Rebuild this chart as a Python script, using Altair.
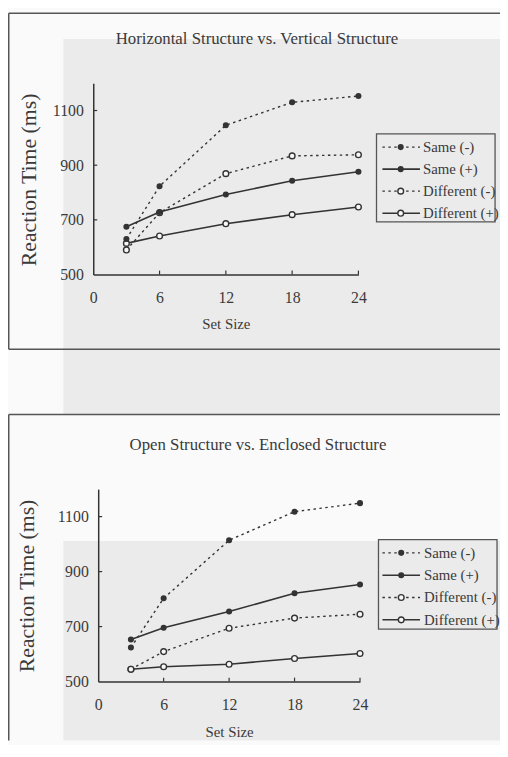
import altair as alt
import pandas as pd

# ---------------- data ----------------
set_size = [3, 6, 12, 18, 24]
series_names = ["Same (-)", "Same (+)", "Different (-)", "Different (+)"]

# Horizontal vs. Vertical structure
hv_same_neg = [630, 823, 1046, 1130, 1153]
hv_same_pos = [675, 729, 793, 843, 876]
hv_diff_neg = [590, 726, 869, 934, 938]
hv_diff_pos = [614, 641, 686, 719, 747]

# Open vs. Enclosed structure
oe_same_neg = [624, 803, 1014, 1118, 1149]
oe_same_pos = [653, 696, 755, 821, 853]
oe_diff_neg = [545, 609, 694, 731, 745]
oe_diff_pos = [545, 554, 563, 584, 602]

x_tick_values = [0, 6, 12, 18, 24]
x_tick_marks = [6, 12, 18, 24]
y_tick_values = [500, 700, 900, 1100]
y_tick_marks = [700, 900, 1100]
x_domain = [0, 24]
y_domain = [500, 1200]

title_top = "Horizontal Structure vs. Vertical Structure"
title_bottom = "Open Structure vs. Enclosed Structure"
x_title = "Set Size"
y_title = "Reaction Time (ms)"

# ---------------- style / layout ----------------
FONT = "Liberation Serif"
INK = "#3a3a3a"
LINE = "#333333"
FRAME = "#555555"
GRAY = "#ebebeb"
PAPER = "#fafafa"
DOT = [2.5, 3.5]
CW, CH = 498, 737          # drawing area (page x 8..506, y 8..745)
M = 8                      # page margin

one = pd.DataFrame({"k": [0]})


def P(v):
    return v - M


def long_table(values):
    rows = []
    for name, ys in zip(series_names, values):
        for x, y in zip(set_size, ys):
            rows.append({"series": name, "x": x, "y": y,
                         "dashed": "(-)" in name, "filled": name.startswith("Same")})
    return pd.DataFrame(rows)


def rect(x, x2, y, y2, fill, stroke=None, sw=0):
    kw = dict(fill=fill)
    if stroke:
        kw.update(stroke=stroke, strokeWidth=sw)
    else:
        kw.update(strokeWidth=0)
    return alt.Chart(one).mark_rect(**kw).encode(
        x=alt.value(P(x)), x2=alt.value(P(x2)), y=alt.value(P(y)), y2=alt.value(P(y2)))


def rule(x, x2, y, y2, color=LINE, sw=1.5, dash=None):
    kw = dict(color=color, strokeWidth=sw)
    if dash:
        kw["strokeDash"] = dash
    return alt.Chart(one).mark_rule(**kw).encode(
        x=alt.value(P(x)), x2=alt.value(P(x2)), y=alt.value(P(y)), y2=alt.value(P(y2)))


def text(s, x, y, size, align="center"):
    return alt.Chart(one).mark_text(text=s, font=FONT, fontSize=size, color=INK,
                                    align=align, baseline="middle").encode(
        x=alt.value(P(x)), y=alt.value(P(y)))


def point(x, y, filled):
    if filled:
        m = alt.Chart(one).mark_point(shape="circle", filled=True, color=LINE,
                                      size=38, opacity=1)
    else:
        m = alt.Chart(one).mark_point(shape="circle", filled=True, fill="#f7f7f7",
                                      stroke=LINE, strokeWidth=1.4, size=34, opacity=1)
    return m.encode(x=alt.value(P(x)), y=alt.value(P(y)))


def panel_data(values, g):
    """Lines, markers and axes of one panel, drawn through its own scales."""
    x0, x1, y0, y1 = g["x0"], g["x1"], g["y0"], g["y1"]   # page px of domain ends
    X = alt.X("x:Q", scale=alt.Scale(domain=x_domain, range=[P(x0), P(x1)],
                                     nice=False, zero=False),
              axis=alt.Axis(orient="bottom", offset=-(CH - P(y0)),
                            values=x_tick_values, ticks=False, grid=False, zindex=2,
                            domainColor=LINE, domainWidth=1.5, format="d",
                            labelFont=FONT, labelFontSize=16, labelColor=INK,
                            labelPadding=15, labelFlush=False, labelOverlap=False,
                            title=x_title, titleFont=FONT, titleFontSize=15,
                            titleFontWeight="normal", titleColor=INK,
                            titleX=P((x0 + x1) / 2), titleY=g["xt_y"] - y0,
                            titleBaseline="middle", titleAlign="center"))
    Y = alt.Y("y:Q", scale=alt.Scale(domain=y_domain, range=[P(y0), P(y1)],
                                     nice=False, zero=False),
              axis=alt.Axis(orient="left", offset=-P(x0),
                            values=y_tick_values, ticks=False, grid=False, zindex=2,
                            domainColor=LINE, domainWidth=1.5, format="d",
                            labelFont=FONT, labelFontSize=16, labelColor=INK,
                            labelPadding=10, labelOverlap=False,
                            title=y_title, titleFont=FONT, titleFontSize=22,
                            titleFontWeight="normal", titleColor=INK,
                            titleX=g["yt_x"] - x0, titleY=P(g["yt_y"]), titleAngle=270,
                            titleBaseline="middle", titleAlign="center"))

    base = alt.Chart(long_table(values))
    solid = base.transform_filter("!datum.dashed").mark_line(
        color=LINE, strokeWidth=1.6).encode(x=X, y=Y, detail="series:N")
    dotted = base.transform_filter("datum.dashed").mark_line(
        color=LINE, strokeWidth=1.4, strokeDash=DOT).encode(x=X, y=Y, detail="series:N")
    pts_o = base.transform_filter("!datum.filled").mark_point(
        shape="circle", filled=True, fill="#f7f7f7", stroke=LINE, strokeWidth=1.4,
        size=34, opacity=1).encode(x=X, y=Y)
    pts_f = base.transform_filter("datum.filled").mark_point(
        shape="circle", filled=True, color=LINE, size=38, opacity=1).encode(x=X, y=Y)
    xt = alt.Chart(pd.DataFrame({"x": x_tick_marks})).mark_rule(
        color=LINE, strokeWidth=1.2).encode(x=X, y=alt.value(P(y0)), y2=alt.value(P(y0) - 4))
    yt = alt.Chart(pd.DataFrame({"y": y_tick_marks})).mark_rule(
        color=LINE, strokeWidth=1.2).encode(y=Y, x=alt.value(P(x0)), x2=alt.value(P(x0) + 4))
    return alt.layer(solid, dotted, xt, yt, pts_o, pts_f)


def legend(lb):
    out = [rect(lb["x"], lb["x2"], lb["y"], lb["y2"], GRAY, stroke=FRAME, sw=1.3)]
    for i, name in enumerate(series_names):
        ry = lb["row0"] + i * lb["step"]
        dashed = "(-)" in name
        out.append(rule(lb["lx"], lb["lx2"], ry, ry,
                        sw=1.4 if dashed else 1.6, dash=DOT if dashed else None))
        out.append(point(lb["cx"], ry, name.startswith("Same")))
        out.append(text(name, lb["tx"], ry, 15, align="left"))
    return out


g_top = dict(x0=94.3, x1=362.7, y0=273.3, y1=79.6,
             xt_y=323, yt_x=29, yt_y=177)
g_bot = dict(x0=99.3, x1=364.3, y0=685.3, y1=490.5,
             xt_y=736, yt_x=27, yt_y=588)

decor = [
    # scan shading
    rect(64, 506, 35, 415, GRAY),
    rect(64, 506, 543, 745, GRAY),
    # frames (right side runs off the page)
    rule(8.75, 8.75, 8.75, 349, color=FRAME),
    rule(8.75, 506, 8.75, 8.75, color=FRAME),
    rule(8.75, 506, 349, 349, color=FRAME),
    rule(8.75, 8.75, 415, 745, color=FRAME),
    rule(8.75, 506, 415, 415, color=FRAME),
    # titles
    text(title_top, 260, 35, 17),
    text(title_bottom, 261, 445.7, 17),
]

leg_top = legend(dict(x=381, x2=501, y=131, y2=220, row0=144.3, step=22.3,
                      lx=387, lx2=425, cx=405.5, tx=428))
leg_bot = legend(dict(x=383, x2=503, y=541.7, y2=632.3, row0=555, step=22.6,
                      lx=387, lx2=425, cx=406, tx=429))

top = panel_data([hv_same_neg, hv_same_pos, hv_diff_neg, hv_diff_pos], g_top)
bottom = panel_data([oe_same_neg, oe_same_pos, oe_diff_neg, oe_diff_pos], g_bot)

chart = alt.layer(*decor, top, bottom, *leg_top, *leg_bot).resolve_scale(
    x="independent", y="independent"
).properties(
    width=CW, height=CH, padding=0, background=PAPER,
    autosize=alt.AutoSizeParams(type="none"),
).configure_view(stroke=None, fill=None)

chart.save("out.html", embed_options={"renderer": "svg", "actions": False})
